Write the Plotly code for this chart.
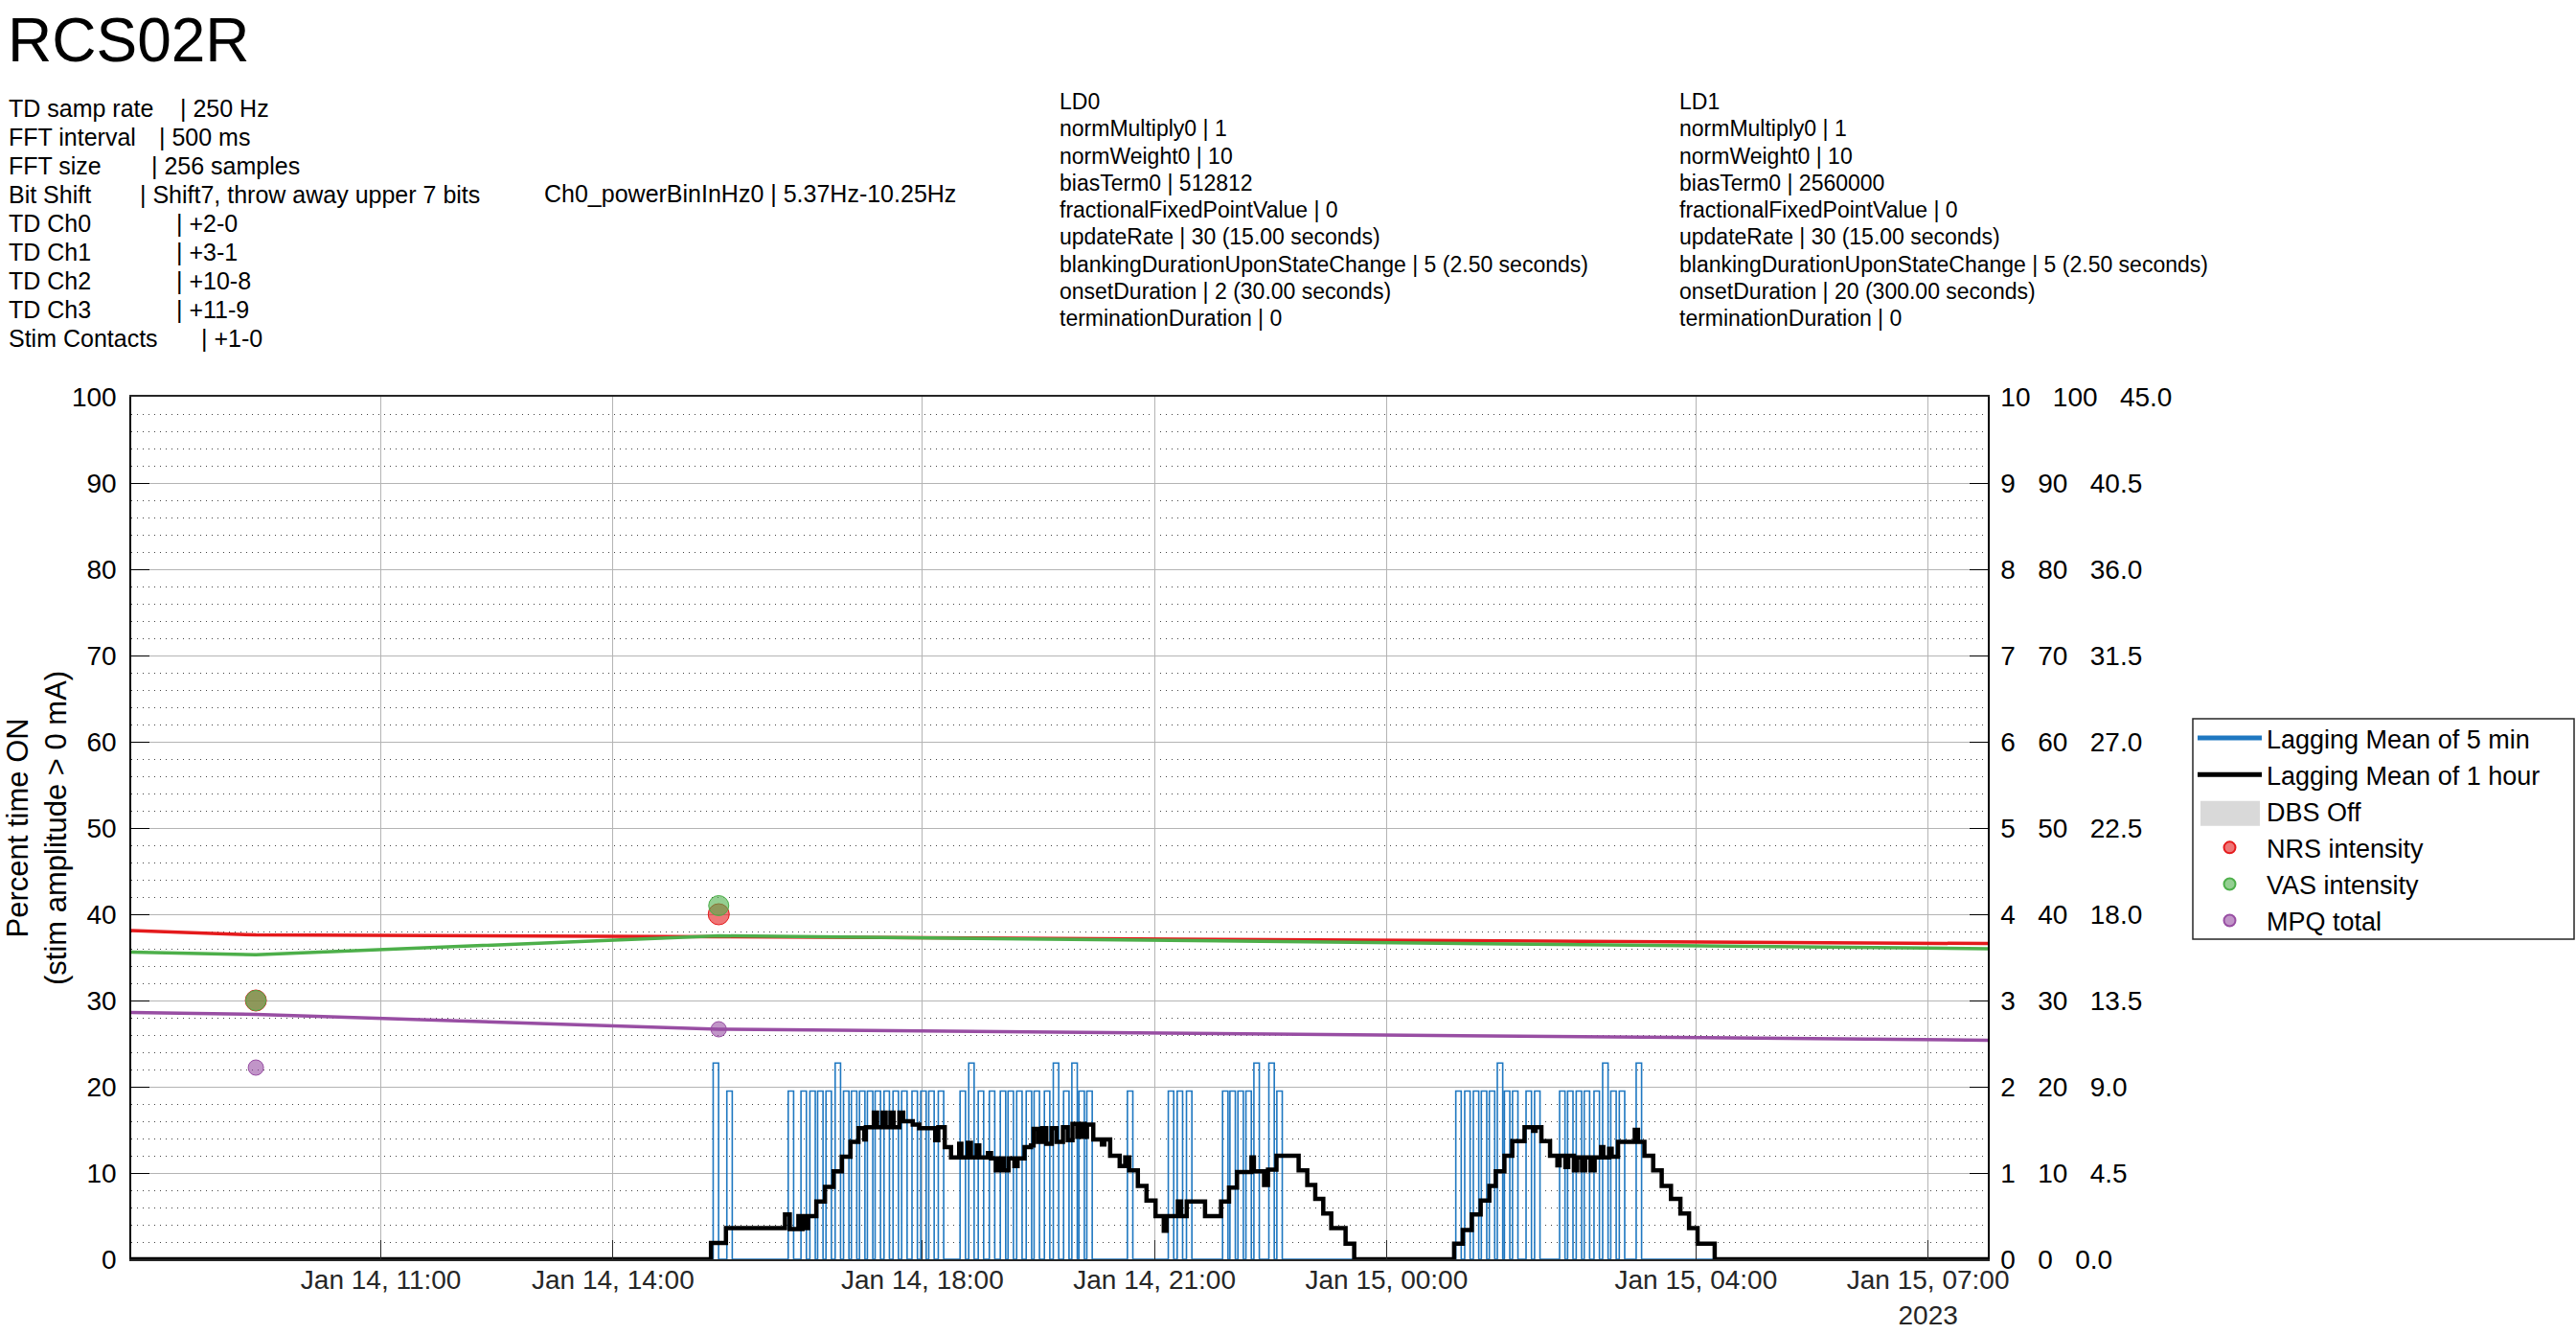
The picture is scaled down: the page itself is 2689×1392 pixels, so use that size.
import pandas as pd
import plotly.graph_objects as go

# ---------------- data ----------------
x_window = ["2023-01-14 07:46:20", "2023-01-15 07:46:20"]

tick_times = ["2023-01-14 11:00", "2023-01-14 14:00", "2023-01-14 18:00", "2023-01-14 21:00",
              "2023-01-15 00:00", "2023-01-15 04:00", "2023-01-15 07:00"]
tick_labels = ["Jan 14, 11:00", "Jan 14, 14:00", "Jan 14, 18:00", "Jan 14, 21:00",
               "Jan 15, 00:00", "Jan 15, 04:00", "Jan 15, 07:00<br>2023"]

# 5-min lagging mean: each stimulation pulse (start time, peak %)
pulse_start = [
    "2023-01-14 15:17:42", "2023-01-14 15:28:18",
    "2023-01-14 16:15:54", "2023-01-14 16:25:48", "2023-01-14 16:32:42", "2023-01-14 16:38:42",
    "2023-01-14 16:45:12", "2023-01-14 16:52:18", "2023-01-14 16:58:48", "2023-01-14 17:04:54",
    "2023-01-14 17:11:12", "2023-01-14 17:17:18", "2023-01-14 17:23:18", "2023-01-14 17:30:12",
    "2023-01-14 17:37:12", "2023-01-14 17:43:54", "2023-01-14 17:51:54", "2023-01-14 17:58:42",
    "2023-01-14 18:04:54", "2023-01-14 18:12:18",
    "2023-01-14 18:29:12", "2023-01-14 18:35:54", "2023-01-14 18:43:18", "2023-01-14 18:51:54",
    "2023-01-14 19:00:24", "2023-01-14 19:06:24", "2023-01-14 19:13:06", "2023-01-14 19:20:30",
    "2023-01-14 19:26:36", "2023-01-14 19:34:36", "2023-01-14 19:41:30", "2023-01-14 19:49:30",
    "2023-01-14 19:55:54", "2023-01-14 20:01:24", "2023-01-14 20:07:30",
    "2023-01-14 20:39:00",
    "2023-01-14 21:10:42", "2023-01-14 21:17:36", "2023-01-14 21:24:48",
    "2023-01-14 21:52:48", "2023-01-14 21:58:30", "2023-01-14 22:04:42", "2023-01-14 22:10:54",
    "2023-01-14 22:17:06", "2023-01-14 22:28:42", "2023-01-14 22:34:54",
    "2023-01-15 00:53:42", "2023-01-15 01:00:36", "2023-01-15 01:07:18", "2023-01-15 01:13:30",
    "2023-01-15 01:19:42", "2023-01-15 01:25:54", "2023-01-15 01:31:24", "2023-01-15 01:37:42",
    "2023-01-15 01:48:12", "2023-01-15 01:54:48",
    "2023-01-15 02:14:12", "2023-01-15 02:20:24", "2023-01-15 02:27:06", "2023-01-15 02:33:18",
    "2023-01-15 02:40:54", "2023-01-15 02:47:36", "2023-01-15 02:53:54", "2023-01-15 03:00:30",
    "2023-01-15 03:13:36",
]
pulse_peak = [
    22.75, 19.5,
    19.5, 19.5, 19.5, 19.5, 19.5, 22.75, 19.5, 19.5, 19.5, 19.5, 19.5, 19.5, 19.5, 19.5, 19.5, 19.5,
    19.5, 19.5,
    19.5, 22.75, 19.5, 19.5, 19.5, 19.5, 19.5, 19.5, 19.5, 19.5, 22.75, 19.5, 22.75, 19.5, 19.5,
    19.5,
    19.5, 19.5, 19.5,
    19.5, 19.5, 19.5, 19.5, 22.75, 22.75, 19.5,
    19.5, 19.5, 19.5, 19.5, 19.5, 22.75, 19.5, 19.5, 19.5, 19.5,
    19.5, 19.5, 19.5, 19.5, 19.5, 22.75, 19.5, 19.5, 22.75,
]
pulse_minutes = 4.2

# 1-hour lagging mean (step changes)
hour_t = [
    "2023-01-14 07:46:20", "2023-01-14 15:16:00", "2023-01-14 15:27:36", "2023-01-14 16:13:24",
    "2023-01-14 16:17:06", "2023-01-14 16:23:48", "2023-01-14 16:25:18", "2023-01-14 16:27:00",
    "2023-01-14 16:29:30", "2023-01-14 16:31:18", "2023-01-14 16:37:42", "2023-01-14 16:44:24",
    "2023-01-14 16:51:06", "2023-01-14 16:57:30", "2023-01-14 17:04:12", "2023-01-14 17:10:24",
    "2023-01-14 17:14:54", "2023-01-14 17:16:06", "2023-01-14 17:22:18", "2023-01-14 17:24:48",
    "2023-01-14 17:29:00", "2023-01-14 17:31:30", "2023-01-14 17:35:12", "2023-01-14 17:37:36",
    "2023-01-14 17:42:06", "2023-01-14 17:45:06", "2023-01-14 17:52:30", "2023-01-14 17:57:30",
    "2023-01-14 18:09:54", "2023-01-14 18:12:18", "2023-01-14 18:17:18", "2023-01-14 18:22:12",
    "2023-01-14 18:28:30", "2023-01-14 18:30:12", "2023-01-14 18:35:12", "2023-01-14 18:37:36",
    "2023-01-14 18:42:06", "2023-01-14 18:44:06", "2023-01-14 18:50:48", "2023-01-14 18:53:12",
    "2023-01-14 18:56:54", "2023-01-14 18:59:54", "2023-01-14 19:03:06", "2023-01-14 19:06:48",
    "2023-01-14 19:11:18", "2023-01-14 19:13:48", "2023-01-14 19:19:12", "2023-01-14 19:24:12",
    "2023-01-14 19:26:12", "2023-01-14 19:29:36", "2023-01-14 19:32:48", "2023-01-14 19:36:06",
    "2023-01-14 19:40:18", "2023-01-14 19:44:00", "2023-01-14 19:49:00", "2023-01-14 19:52:42",
    "2023-01-14 19:56:24", "2023-01-14 20:00:06", "2023-01-14 20:02:36", "2023-01-14 20:05:54",
    "2023-01-14 20:07:36", "2023-01-14 20:12:30", "2023-01-14 20:19:12", "2023-01-14 20:21:06",
    "2023-01-14 20:25:36", "2023-01-14 20:33:00", "2023-01-14 20:37:18", "2023-01-14 20:40:24",
    "2023-01-14 20:47:06", "2023-01-14 20:53:48", "2023-01-14 21:00:48", "2023-01-14 21:07:12",
    "2023-01-14 21:09:24", "2023-01-14 21:18:06", "2023-01-14 21:20:36", "2023-01-14 21:25:00",
    "2023-01-14 21:39:12", "2023-01-14 21:51:36", "2023-01-14 21:57:48", "2023-01-14 22:04:00",
    "2023-01-14 22:15:12", "2023-01-14 22:17:06", "2023-01-14 22:25:00", "2023-01-14 22:28:00",
    "2023-01-14 22:34:36", "2023-01-14 22:51:48", "2023-01-14 22:58:30", "2023-01-14 23:04:42",
    "2023-01-14 23:10:54", "2023-01-14 23:17:06", "2023-01-14 23:28:12", "2023-01-14 23:34:54",
    "2023-01-15 00:52:24", "2023-01-15 00:59:06", "2023-01-15 01:06:06", "2023-01-15 01:13:00",
    "2023-01-15 01:19:42", "2023-01-15 01:24:42", "2023-01-15 01:31:24", "2023-01-15 01:37:30",
    "2023-01-15 01:47:00", "2023-01-15 01:53:42", "2023-01-15 01:55:36", "2023-01-15 02:00:06",
    "2023-01-15 02:06:48", "2023-01-15 02:12:30", "2023-01-15 02:14:12", "2023-01-15 02:18:42",
    "2023-01-15 02:20:54", "2023-01-15 02:25:18", "2023-01-15 02:27:54", "2023-01-15 02:31:36",
    "2023-01-15 02:34:06", "2023-01-15 02:38:12", "2023-01-15 02:41:24", "2023-01-15 02:46:24",
    "2023-01-15 02:48:06", "2023-01-15 02:52:36", "2023-01-15 02:54:36", "2023-01-15 02:59:30",
    "2023-01-15 03:12:30", "2023-01-15 03:15:00", "2023-01-15 03:20:00", "2023-01-15 03:26:48",
    "2023-01-15 03:33:24", "2023-01-15 03:40:36", "2023-01-15 03:47:54", "2023-01-15 03:54:36",
    "2023-01-15 04:01:12", "2023-01-15 04:14:30", "2023-01-15 07:46:20",
]
hour_v = [
    0, 1.9, 3.6, 5.2,
    3.5, 5.0, 3.5, 5.0,
    3.6, 5.0, 6.7, 8.4,
    10.2, 11.9, 13.6, 15.2,
    13.9, 15.3, 17.0, 15.3,
    17.0, 15.3, 17.0, 15.3,
    17.0, 16.0, 15.6, 15.2,
    13.8, 15.3, 13.0, 11.8,
    13.4, 11.8, 13.5, 11.8,
    13.2, 11.8, 12.3, 11.7,
    10.3, 11.7, 10.3, 11.7,
    10.8, 11.7, 13.0, 13.2,
    15.1, 13.6, 15.2, 13.4,
    15.2, 13.6, 15.3, 13.8,
    15.7, 14.2, 15.7, 14.2,
    15.6, 13.9, 13.3, 13.9,
    12.0, 10.8, 11.8, 10.3,
    8.5, 6.8, 5.0, 3.3,
    5.0, 6.7, 5.0, 6.7,
    5.0, 6.7, 8.3, 10.1,
    11.8, 10.2, 8.6, 10.4,
    12.0, 10.3, 8.6, 7.0,
    5.3, 3.6, 1.8, 0,
    1.8, 3.4, 5.2, 6.8,
    8.5, 10.2, 12.0, 13.7,
    15.3, 14.9, 15.3, 13.7,
    12.0, 10.9, 12.0, 10.7,
    12.0, 10.3, 11.8, 10.3,
    11.8, 10.3, 11.8, 13.0,
    11.8, 12.8, 11.9, 13.6,
    15.0, 13.6, 12.0, 10.3,
    8.5, 7.0, 5.3, 3.6,
    1.8, 0, 0,
]

# pain surveys
survey_t = ["2023-01-14 09:23", "2023-01-14 15:22"]
nrs = [3, 4]          # 0-10
vas = [30, 41]        # 0-100
mpq = [10, 12]        # 0-45

trend_t = ["2023-01-14 07:46:20", "2023-01-14 09:23", "2023-01-14 15:22", "2023-01-15 07:46:20"]
nrs_trend = [3.81, 3.76, 3.74, 3.66]
vas_trend = [35.6, 35.3, 37.5, 36.0]
mpq_trend = [12.87, 12.78, 12.0, 11.43]

pct_ticks = [0, 10, 20, 30, 40, 50, 60, 70, 80, 90, 100]
nrs_ticks = ["0", "1", "2", "3", "4", "5", "6", "7", "8", "9", "10"]
vas_ticks = ["0", "10", "20", "30", "40", "50", "60", "70", "80", "90", "100"]
mpq_ticks = ["0.0", "4.5", "9.0", "13.5", "18.0", "22.5", "27.0", "31.5", "36.0", "40.5", "45.0"]

title_text = "RCS02R"
left_labels = ["TD samp rate", "FFT interval", "FFT size", "Bit Shift", "TD Ch0", "TD Ch1",
               "TD Ch2", "TD Ch3", "Stim Contacts"]
left_values = ["| 250 Hz", "| 500 ms", "| 256 samples", "| Shift7, throw away upper 7 bits",
               "| +2-0", "| +3-1", "| +10-8", "| +11-9", "| +1-0"]
power_text = "Ch0_powerBinInHz0 | 5.37Hz-10.25Hz"
ld0_lines = ["LD0", "normMultiply0 | 1", "normWeight0 | 10", "biasTerm0 | 512812",
             "fractionalFixedPointValue | 0", "updateRate | 30 (15.00 seconds)",
             "blankingDurationUponStateChange | 5 (2.50 seconds)", "onsetDuration | 2 (30.00 seconds)",
             "terminationDuration | 0"]
ld1_lines = ["LD1", "normMultiply0 | 1", "normWeight0 | 10", "biasTerm0 | 2560000",
             "fractionalFixedPointValue | 0", "updateRate | 30 (15.00 seconds)",
             "blankingDurationUponStateChange | 5 (2.50 seconds)", "onsetDuration | 20 (300.00 seconds)",
             "terminationDuration | 0"]

# ---------------- layout helpers ----------------
FONT = "Liberation Sans, Arial, Helvetica, sans-serif"
W, H = 2689, 1392
PL, PR, PT, PB = 137, 2075, 414, 1314
PIPE_X = [189, 167, 159, 147, 185, 185, 185, 185, 211]
LEG_TOP, LEG_FONT = 746, 27
LEG_ROW = LEG_FONT * 1.3 + 3


def fx(px):
    return (px - PL) / (PR - PL)


def fy(py):
    return (PB - py) / (PB - PT)


# build the 5-min trace from the pulse list
blue_x = [pd.Timestamp(x_window[0])]
blue_y = [0]
for s, p in zip(pulse_start, pulse_peak):
    t0 = pd.Timestamp(s)
    t1 = t0 + pd.Timedelta(minutes=pulse_minutes)
    blue_x += [t0, t0, t1, t1]
    blue_y += [0, p, p, 0]
blue_x.append(pd.Timestamp(x_window[1]))
blue_y.append(0)

RED, GREEN, PURPLE = "#e41a1c", "#4daf4a", "#984ea3"

fig = go.Figure()
fig.add_trace(go.Scatter(x=blue_x, y=blue_y, mode="lines", name="Lagging Mean of 5 min",
                         line=dict(color="#1f78c1", width=1.6)))
fig.add_trace(go.Scatter(x=hour_t, y=hour_v, mode="lines", name="Lagging Mean of 1 hour",
                         line=dict(color="black", width=4.5, shape="hv")))
fig.add_trace(go.Scatter(x=[None], y=[None], mode="lines", name="DBS Off",
                         line=dict(color="rgba(0,0,0,0)", width=0)))
fig.add_trace(go.Scatter(x=trend_t, y=nrs_trend, yaxis="y3", mode="lines", showlegend=False,
                         line=dict(color=RED, width=3.5)))
fig.add_trace(go.Scatter(x=trend_t, y=vas_trend, yaxis="y4", mode="lines", showlegend=False,
                         line=dict(color=GREEN, width=3.5)))
fig.add_trace(go.Scatter(x=trend_t, y=mpq_trend, yaxis="y5", mode="lines", showlegend=False,
                         line=dict(color=PURPLE, width=3.5)))
fig.add_trace(go.Scatter(x=survey_t, y=nrs, yaxis="y3", mode="markers", name="NRS intensity",
                         marker=dict(size=22, color="rgba(228,26,28,0.6)", line=dict(color=RED, width=1))))
fig.add_trace(go.Scatter(x=survey_t, y=vas, yaxis="y4", mode="markers", name="VAS intensity",
                         marker=dict(size=21, color="rgba(77,175,74,0.6)", line=dict(color=GREEN, width=1))))
fig.add_trace(go.Scatter(x=survey_t, y=mpq, yaxis="y5", mode="markers", name="MPQ total",
                         marker=dict(size=16, color="rgba(152,78,163,0.6)", line=dict(color=PURPLE, width=1))))

NB = "\u00a0\u00a0\u00a0"
right_text = [f"{a}{NB}{b}{NB}{c}" for a, b, c in zip(nrs_ticks, vas_ticks, mpq_ticks)]

annotations = []
annotations.append(dict(text=title_text, x=fx(7), y=fy(42), xanchor="left", yanchor="middle",
                        font=dict(size=64, color="black", family=FONT)))
for i, (lab, val) in enumerate(zip(left_labels, left_values)):
    yy = fy(113 + i * 30)
    annotations.append(dict(text=lab, x=fx(8), y=yy, xanchor="left", yanchor="middle",
                            font=dict(size=25, color="black", family=FONT)))
    annotations.append(dict(text=val, x=fx(PIPE_X[i] - 2), y=yy, xanchor="left", yanchor="middle",
                            font=dict(size=25, color="black", family=FONT)))
annotations.append(dict(text=power_text, x=fx(567), y=fy(202), xanchor="left", yanchor="middle",
                        font=dict(size=25, color="black", family=FONT)))
for i, (a, b) in enumerate(zip(ld0_lines, ld1_lines)):
    yy = fy(106 + i * 28.3)
    annotations.append(dict(text=a, x=fx(1105), y=yy, xanchor="left", yanchor="middle",
                            font=dict(size=23, color="black", family=FONT)))
    annotations.append(dict(text=b, x=fx(1752), y=yy, xanchor="left", yanchor="middle",
                            font=dict(size=23, color="black", family=FONT)))
annotations.append(dict(text="Percent time ON<br>(stim amplitude > 0 mA)", x=fx(38), y=fy(864),
                        xanchor="center", yanchor="middle", textangle=-90,
                        font=dict(size=31, color="black", family=FONT)))
for a in annotations:
    a.update(xref="paper", yref="paper", showarrow=False, borderpad=0)

# swatch for the "DBS Off" legend entry (third row) and the legend frame
sw_c = LEG_TOP + 7.6 + LEG_ROW / 2 + 2 * LEG_ROW
shapes = [
    dict(type="rect", xref="paper", yref="paper", x0=fx(2297), x1=fx(2359),
         y0=fy(sw_c + 13), y1=fy(sw_c - 13), fillcolor="#d9d9d9", line=dict(width=0),
         layer="above"),
    dict(type="rect", xref="paper", yref="paper", x0=fx(2289), x1=fx(2687),
         y0=fy(980), y1=fy(750), fillcolor="rgba(0,0,0,0)",
         line=dict(color="#262626", width=1.5), layer="above"),
]

GRID = "#b4b4b4"
fig.update_layout(
    width=W, height=H,
    margin=dict(l=PL, r=W - PR, t=PT, b=H - PB, pad=0, autoexpand=False),
    paper_bgcolor="white", plot_bgcolor="white",
    font=dict(family=FONT, color="black"),
    showlegend=True,
    legend=dict(x=fx(2289), y=fy(LEG_TOP), xanchor="left", yanchor="top",
                borderwidth=0, bgcolor="rgba(0,0,0,0)",
                font=dict(size=LEG_FONT, family=FONT, color="black"),
                itemwidth=67, tracegroupgap=0, itemsizing="constant"),
    xaxis=dict(type="date", range=x_window, tickvals=tick_times, ticktext=tick_labels,
               automargin=False,
               showgrid=True, gridcolor=GRID, gridwidth=1,
               ticks="inside", ticklen=20, tickcolor="#262626", tickwidth=1,
               tickfont=dict(size=28, color="#262626", family=FONT), ticklabelstandoff=-4,
               showline=True, linecolor="#262626", linewidth=1.5, mirror=True,
               zeroline=False),
    yaxis=dict(range=[0, 100], tickvals=pct_ticks, showgrid=True, gridcolor=GRID, gridwidth=1,
               automargin=False,
               minor=dict(dtick=2, showgrid=True, gridcolor="#444444", griddash="1px,5px", gridwidth=1),
               ticks="inside", ticklen=19, tickcolor="black", tickwidth=1,
               tickfont=dict(size=28, color="black", family=FONT), ticklabelstandoff=8,
               showline=True, linecolor="black", linewidth=1.5, zeroline=False),
    yaxis2=dict(range=[0, 100], overlaying="y", side="right", anchor="x", automargin=False,
                tickvals=pct_ticks, ticktext=right_text, showgrid=False,
                ticks="inside", ticklen=19, tickcolor="black", tickwidth=1,
                tickfont=dict(size=28, color="black", family=FONT), ticklabelstandoff=6,
                showline=True, linecolor="black", linewidth=1.5, zeroline=False),
    yaxis3=dict(range=[0, 10], overlaying="y", visible=False),
    yaxis4=dict(range=[0, 100], overlaying="y", visible=False),
    yaxis5=dict(range=[0, 45], overlaying="y", visible=False),
    annotations=annotations,
    shapes=shapes,
)
# dummy trace so the right axis renders its labels
fig.add_trace(go.Scatter(x=[None], y=[None], yaxis="y2", showlegend=False, hoverinfo="skip"))

fig.write_html("out.html")
